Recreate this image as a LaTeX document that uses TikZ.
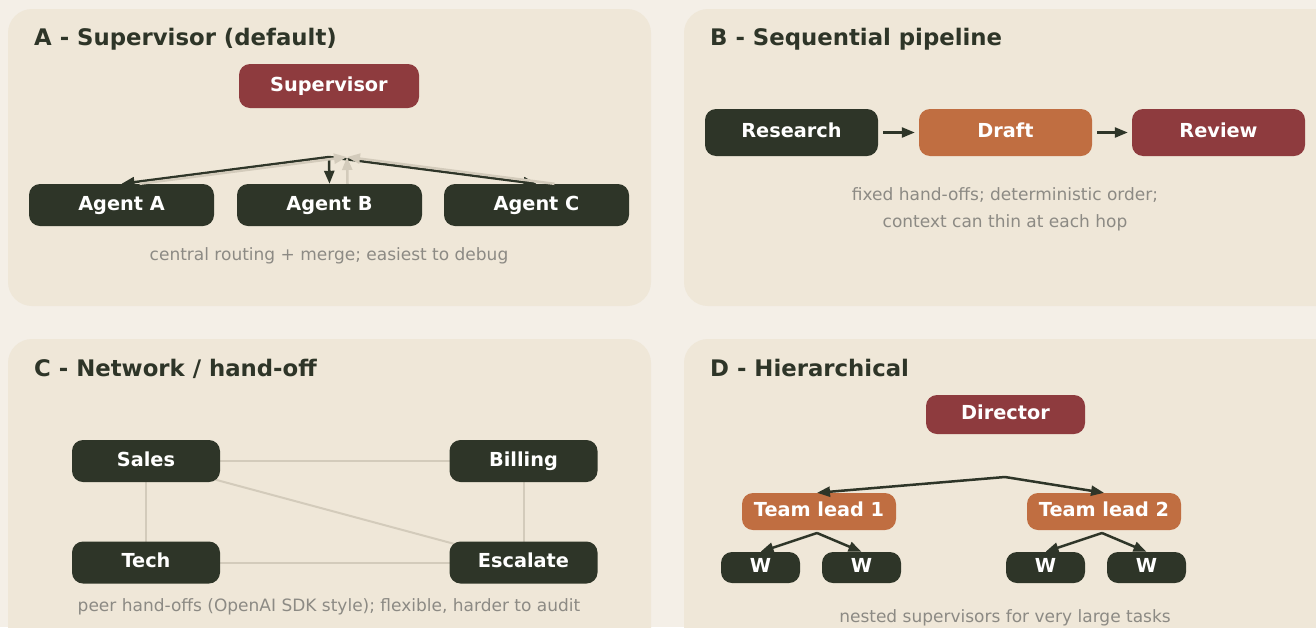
\documentclass[tikz,border=0pt]{standalone}
\usepackage{fontspec}
\setmainfont{DejaVu Sans}
\usetikzlibrary{arrows.meta}
\definecolor{pagebg}{HTML}{F4EFE7}
\definecolor{panelbg}{HTML}{EFE7D8}
\definecolor{ink}{HTML}{2E3528}
\definecolor{wine}{HTML}{8E3B3E}
\definecolor{rust}{HTML}{C06E41}
\definecolor{muted}{HTML}{8C8A84}
\definecolor{faint}{HTML}{D3CBBB}
\begin{document}
\begin{tikzpicture}[x=1pt,y=-1pt,
  panel/.style={fill=panelbg, rounded corners=24pt},
  heading/.style={anchor=base west, inner sep=0pt, text=ink, font=\fontsize{22.8}{26}\selectfont\bfseries},
  note/.style={text=muted, inner sep=0pt, font=\fontsize{17}{27}\selectfont, align=center},
  box/.style 2 args={rounded corners=11pt, text=white, inner sep=0pt,
    font=\fontsize{19.3}{22}\selectfont\bfseries, text height=14pt, text depth=4pt,
    minimum width=#1, minimum height=#2},
  darkbox/.style={fill=ink},
  redbox/.style={fill=wine},
  orangebox/.style={fill=rust},
  link/.style={draw=ink, line width=2.5pt, -{Triangle[length=13pt,width=10pt]}},
  backlink/.style={draw=faint, line width=2.5pt, -{Triangle[length=13pt,width=10pt]}},
  peer/.style={draw=faint, line width=2pt},
]
\useasboundingbox (0,0) rectangle (1316,627);
\fill[pagebg] (0,0) rectangle (1316,627);
\begin{scope}
\clip (0,0) rectangle (1316,627);
\fill[panel] (8,9) rectangle (651,306);
\fill[panel] (684,9) rectangle (1350,306);
\fill[panel] (8,339) rectangle (651,660);
\fill[panel] (684,339) rectangle (1350,660);
\end{scope}

% ---- A: supervisor ----
\node[heading] (titleA) at (34,45) {A - Supervisor (default)};
\node[box={180pt}{44pt}, redbox] (sup) at (329,86) {Supervisor};
\node[box={185pt}{42pt}, darkbox] (agA) at (121.5,205) {Agent A};
\node[box={185pt}{42pt}, darkbox] (agB) at (329.5,205) {Agent B};
\node[box={185pt}{42pt}, darkbox] (agC) at (536.5,205) {Agent C};
\coordinate (fanout) at (329,157);
\coordinate (merge) at (347,157);
\draw[link] (fanout) -- (agA.north);
\draw[link] (fanout) -- (agB.north);
\draw[link] (fanout) -- (agC.north);
\draw[backlink] ([xshift=18pt]agA.north) -- (merge);
\draw[backlink] ([xshift=18pt]agB.north) -- (merge);
\draw[backlink] ([xshift=18pt]agC.north) -- (merge);
\node[note] (capA) at (329,255.5) {central routing + merge; easiest to debug};

% ---- B: sequential pipeline ----
\node[heading] (titleB) at (710,45) {B - Sequential pipeline};
\node[box={173pt}{47pt}, darkbox] (research) at (791.5,132.5) {Research};
\node[box={173pt}{47pt}, orangebox] (draft) at (1005.5,132.5) {Draft};
\node[box={173pt}{47pt}, redbox] (review) at (1218.5,132.5) {Review};
\draw[link, shorten <=5pt, shorten >=4pt] (research) -- (draft);
\draw[link, shorten <=5pt, shorten >=4pt] (draft) -- (review);
\node[note] (capB) at (1005,209) {fixed hand-offs; deterministic order;\\context can thin at each hop};

% ---- C: network ----
\node[heading] (titleC) at (34,376) {C - Network / hand-off};
\coordinate (cSales) at (146,461);
\coordinate (cBilling) at (523.5,461);
\coordinate (cTech) at (146,562.5);
\coordinate (cEscalate) at (523.5,562.5);
\draw[peer] (cSales) -- (cBilling);
\draw[peer] (cSales) -- (cTech);
\draw[peer] (cBilling) -- (cEscalate);
\draw[peer] (cTech) -- (cEscalate);
\draw[peer] (cSales) -- (cEscalate);
\node[box={148pt}{42pt}, darkbox] (sales) at (cSales) {Sales};
\node[box={148pt}{42pt}, darkbox] (billing) at (cBilling) {Billing};
\node[box={148pt}{42pt}, darkbox] (tech) at (cTech) {Tech};
\node[box={148pt}{42pt}, darkbox] (escalate) at (cEscalate) {Escalate};
\node[note] (capC) at (329,607) {peer hand-offs (OpenAI SDK style); flexible, harder to audit};

% ---- D: hierarchical ----
\node[heading] (titleD) at (710,376) {D - Hierarchical};
\node[box={159pt}{39pt}, redbox] (director) at (1005.5,414.5) {Director};
\node[box={154pt}{37pt}, orangebox] (lead1) at (819,511.5) {Team lead 1};
\node[box={154pt}{37pt}, orangebox] (lead2) at (1104,511.5) {Team lead 2};
\node[box={79pt}{31pt}, darkbox] (w1) at (760.5,567.5) {W};
\node[box={79pt}{31pt}, darkbox] (w2) at (861.5,567.5) {W};
\node[box={79pt}{31pt}, darkbox] (w3) at (1045.5,567.5) {W};
\node[box={79pt}{31pt}, darkbox] (w4) at (1146.5,567.5) {W};
\coordinate (split) at (1005,477);
\coordinate (split1) at (817,533);
\coordinate (split2) at (1102,533);
\draw[link] (split) -- ([xshift=-2pt]lead1.north);
\draw[link] (split) -- (lead2.north);
\draw[link] (split1) -- (w1.north);
\draw[link] (split1) -- (w2.north);
\draw[link] (split2) -- (w3.north);
\draw[link] (split2) -- (w4.north);
\node[note] (capD) at (1005,617.5) {nested supervisors for very large tasks};
\end{tikzpicture}
\end{document}
